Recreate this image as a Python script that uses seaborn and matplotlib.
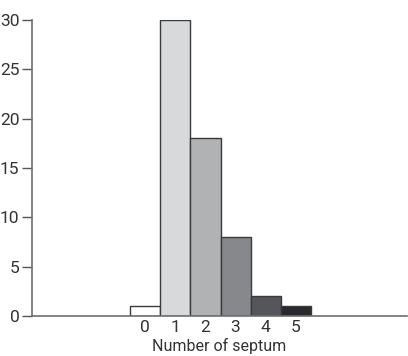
import matplotlib
matplotlib.use("Agg")
import matplotlib.pyplot as plt
import seaborn as sns
import pandas as pd

septum = ["0", "1", "2", "3", "4", "5"]
counts = [1, 30, 18, 8, 2, 1]
bar_colors = ["#ffffff", "#d7d9db", "#b1b2b4", "#87888b", "#55565b", "#2a2a2e"]

df = pd.DataFrame({"septum": septum, "count": counts})

sns.set_theme(style="ticks")
plt.rcParams["font.family"] = ["Roboto", "DejaVu Sans"]

fig = plt.figure(figsize=(4.08, 3.56), dpi=100)
ax = fig.add_axes([0.078, 0.112, 0.92, 0.832])

sns.barplot(data=df, x="septum", y="count", hue="septum", palette=bar_colors,
            legend=False, width=1.0, edgecolor="#3a3a3a", linewidth=1.0,
            saturation=1, ax=ax)

ax.set_xlim(-3.77, 8.7)
ax.set_ylim(0, 30)
ax.set_yticks([0, 5, 10, 15, 20, 25, 30])
ax.set_xlabel("Number of septum", fontsize=11.5, color="#333333", labelpad=2)
ax.set_ylabel("")
ax.tick_params(axis="y", length=7, width=1, color="#555555", labelsize=12.5,
               labelcolor="#333333", pad=2)
ax.tick_params(axis="x", length=0, labelsize=12.5, labelcolor="#333333", pad=3)
for side in ["top", "right"]:
    ax.spines[side].set_visible(False)
for side in ["left", "bottom"]:
    ax.spines[side].set_color("#6e6e6e")
    ax.spines[side].set_linewidth(1.2)

plt.savefig("out.png", dpi=100)
